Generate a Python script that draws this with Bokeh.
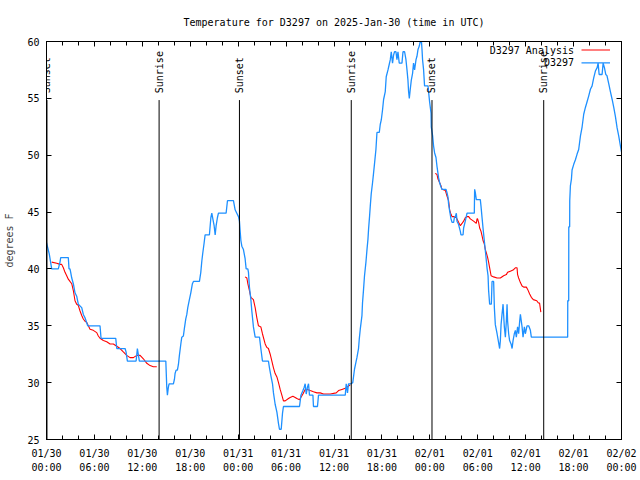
import math
from datetime import datetime, timedelta
from bokeh.plotting import figure
from bokeh.models import Range1d, FixedTicker, LinearAxis, Label, Arrow, ColumnDataSource
from bokeh.embed import file_html
from bokeh.resources import INLINE

station = "D3297"
start = datetime(2025, 1, 30, 0, 0)
title_text = "Temperature for D3297 on 2025-Jan-30 (time in UTC)"

# observations (hours since 2025-01-30 00:00 UTC, degrees F)
obs_hours = [0.0, 0.35, 0.65, 1.48, 1.69, 1.78, 2.73, 2.82, 2.94, 3.03, 3.16, 3.36, 3.57, 3.78, 3.98,
             4.41, 4.61, 4.82, 5.16, 6.70, 6.83, 8.67, 8.80, 9.84, 9.96, 10.13, 11.22, 11.38, 11.63,
             14.94, 15.06, 15.14, 15.26, 15.35, 15.89, 16.02, 16.10, 16.23, 16.39, 16.52, 16.64, 16.82,
             16.94, 17.14, 17.27, 17.44, 17.57, 17.69, 17.86, 18.07, 18.27, 18.40, 19.15, 19.32, 19.45,
             19.57, 19.74, 19.86, 20.40, 20.58, 20.70, 20.83, 20.99, 21.12, 21.24, 21.40, 21.53, 22.49,
             22.66, 23.41, 23.62, 23.83, 24.04, 24.16, 24.25, 24.34, 24.46, 24.66, 24.87, 25.00, 25.21,
             25.29, 25.41, 25.59, 25.71, 25.91, 26.13, 26.67, 26.84, 27.04, 27.79, 27.92, 28.10, 28.30,
             28.42, 28.63, 28.85, 29.05, 29.17, 29.39, 29.55, 29.67, 31.68, 31.86, 32.11, 32.27, 32.39,
             32.52, 32.68, 32.81, 32.93, 33.36, 33.43, 33.93, 34.06, 37.41, 37.53, 37.69, 37.82, 38.12,
             38.35, 38.57, 38.75, 38.87, 39.07, 39.16, 39.29, 39.50, 39.57, 39.70, 39.82, 40.00, 40.13,
             40.25, 40.33, 40.45, 40.54, 40.66, 40.83, 40.95, 41.08, 41.25, 41.38, 41.67, 41.79, 41.92,
             42.08, 42.21, 42.42, 42.54, 42.76, 42.92, 43.05, 43.17, 43.33, 43.46, 43.58, 43.76, 43.88,
             44.01, 44.17, 44.51, 44.64, 44.84, 45.01, 45.14, 45.26, 45.34, 45.43, 45.55, 45.68, 45.84,
             45.96, 46.09, 46.27, 46.39, 46.52, 46.68, 46.80, 46.93, 47.02, 47.09, 47.22, 47.34, 47.77,
             47.84, 47.97, 48.15, 48.18, 48.35, 48.47, 48.60, 48.77, 48.90, 49.02, 49.10, 49.22, 49.40,
             49.52, 50.03, 50.15, 50.28, 50.35, 50.48, 50.65, 50.78, 50.98, 51.07, 51.19, 51.32, 51.40,
             51.60, 51.82, 51.90, 52.16, 52.23, 52.44, 52.66, 53.57, 53.61, 53.70, 53.82, 54.32, 54.41,
             54.54, 54.66, 54.82, 54.95, 55.08, 55.16, 55.29, 55.36, 55.49, 55.70, 55.79, 55.99, 56.08,
             56.20, 56.42, 56.62, 56.74, 56.83, 56.92, 57.04, 57.17, 57.24, 57.33, 57.46, 57.58, 57.67,
             57.74, 57.87, 57.99, 58.17, 58.30, 58.42, 58.58, 58.71, 58.83, 58.99, 59.12, 59.25, 59.34,
             59.55, 59.67, 59.84, 59.96, 60.17, 60.38, 60.59, 60.71, 65.26, 65.27, 65.39, 65.40, 65.51,
             65.52, 65.60, 65.73, 65.81, 66.02, 66.23, 66.44, 66.64, 66.86, 67.07, 67.27, 67.48, 67.69,
             67.89, 68.11, 68.32, 68.52, 68.73, 68.95, 69.07, 69.20, 69.57, 69.70, 69.86, 70.03, 70.18,
             70.40, 70.61, 70.83, 71.03, 71.24, 71.45, 71.65, 71.87, 72.00]
obs_temps = [42.3, 41.3, 40.0, 40.0, 40.6, 41.0, 41.0, 40.0, 40.0, 39.7, 39.2, 38.7, 37.9, 37.6, 36.9,
             36.6, 36.0, 35.7, 35.0, 35.0, 33.9, 33.9, 33.0, 33.0, 32.7, 31.9, 31.9, 33.0, 31.9,
             31.9, 29.6, 28.9, 29.6, 29.9, 29.9, 30.3, 30.8, 31.1, 31.1, 31.6, 32.4, 33.4,
             34.0, 34.1, 34.8, 35.6, 36.0, 36.6, 37.2, 37.9, 38.7, 38.9, 38.9, 39.7, 40.7,
             41.4, 42.3, 43.0, 43.0, 44.5, 44.9, 44.4, 43.8, 43.0, 43.8, 44.5, 44.9, 44.9,
             46.0, 46.0, 45.2, 44.9, 44.6, 44.2, 43.3, 42.5, 42.0, 41.7, 40.9, 40.0, 40.0,
             39.7, 38.4, 37.3, 36.3, 34.9, 34.0, 34.0, 33.0, 31.9, 31.9, 31.3, 30.6, 29.9,
             29.1, 28.1, 27.4, 26.4, 25.9, 25.9, 27.3, 27.9, 27.9, 28.9, 29.3, 29.6, 29.9,
             29.0, 29.6, 29.9, 28.9, 28.9, 27.9, 27.9, 28.9, 28.9, 29.9, 29.1, 29.9, 29.9,
             30.0, 31.2, 31.8, 32.2, 33.0, 33.8, 34.7, 35.9, 37.0, 38.2, 39.4, 40.6, 41.7,
             42.6, 43.5, 44.6, 45.5, 46.6, 47.6, 48.4, 49.3, 50.5, 52.0, 52.0, 52.7, 53.1,
             54.0, 54.9, 55.6, 56.9, 57.5, 58.0, 58.4, 59.1, 58.1, 58.8, 59.1, 59.1, 58.4,
             59.1, 58.1, 58.1, 59.1, 59.1, 58.4, 57.5, 56.6, 55.6, 55.0, 55.8, 56.6, 57.2,
             58.1, 57.5, 58.4, 58.7, 59.3, 59.6, 60.0, 60.2, 59.3, 58.4, 57.5, 56.1, 56.1,
             55.6, 54.7, 53.7, 52.5, 51.7, 50.8, 50.2, 49.8, 49.0, 48.4, 48.0, 47.6, 47.2,
             47.0, 47.0, 46.7, 46.3, 45.7, 45.1, 44.4, 44.1, 44.1, 44.5, 44.6, 44.9, 44.2,
             43.9, 43.3, 43.0, 43.0, 43.6, 44.2, 44.9, 44.9, 47.0, 46.7, 46.1, 46.1, 45.5,
             44.5, 43.6, 42.5, 41.6, 40.7, 40.1, 39.4, 38.1, 36.9, 36.9, 38.9, 38.9, 36.6,
             35.1, 34.3, 33.5, 33.0, 33.7, 35.1, 36.0, 36.9, 36.0, 34.9, 34.0, 35.4, 36.9,
             35.4, 34.3, 33.7, 33.4, 33.0, 33.7, 34.3, 34.6, 34.0, 34.9, 34.3, 35.4, 36.0,
             34.9, 34.0, 34.9, 34.3, 35.0, 35.0, 34.6, 34.0, 34.0, 37.2, 37.2, 43.7, 43.7,
             46.0, 47.3, 47.9, 48.7, 49.2, 49.6, 50.1, 50.5, 51.7, 52.5, 53.6, 54.2, 54.7,
             55.2, 55.8, 56.1, 56.8, 57.4, 57.7, 58.1, 57.1, 57.1, 58.1, 57.7, 57.1, 57.0,
             56.3, 55.6, 54.9, 54.2, 53.4, 52.4, 51.7, 50.8, 50.3]

# analysis (NaN separates the three analysis periods)
nan = float("nan")
ana_hours = [0.65, 1.28, 1.69, 1.90, 2.11, 2.32, 2.53, 2.73, 2.94, 3.16, 3.36, 3.57, 3.78, 3.98, 4.20,
             4.41, 4.61, 4.82, 5.04, 5.24, 5.45, 5.86, 6.29, 6.49, 6.70, 7.12, 7.54, 7.96, 8.37, 8.80,
             9.21, 9.62, 10.05, 10.46, 10.88, 11.30, 11.72, 12.13, 12.56, 12.97, 13.38, 13.81,
             nan,
             24.87, 25.09, 25.21, 25.41, 25.59, 25.91, 26.13, 26.34, 26.54, 26.84, 27.04, 27.38, 27.59,
             27.79, 28.01, 28.22, 28.42, 28.63, 28.85, 29.05, 29.26, 29.47, 29.67, 29.89, 30.30, 30.51,
             30.85, 31.14, 31.35, 31.68, 32.11, 32.39, 32.68, 33.02, 33.43, 33.86, 34.27, 34.69, 35.53,
             36.28, 36.57, 36.99, 37.41, 37.82, 38.03,
             nan,
             48.68, 48.90, 49.02, 49.22, 49.40, 49.52, 49.94, 50.15, 50.35, 50.48, 50.65, 50.78, 50.98,
             51.32, 51.60, 51.82, 52.03, 52.23, 52.44, 52.66, 52.86, 53.07, 53.48, 53.82, 53.91, 53.98,
             54.11, 54.24, 54.41, 54.54, 54.66, 54.82, 54.95, 55.08, 55.24, 55.36, 55.49, 55.67, 55.99,
             56.42, 56.83, 57.24, 57.58, 57.74, 58.08, 58.42, 58.71, 58.92, 58.99, 59.12, 59.34, 59.55,
             59.75, 60.09, 60.25, 60.50, 60.71, 60.96, 61.39, 61.59, 61.74, 61.82, 61.90]
ana_temps = [40.6, 40.5, 40.4, 40.4, 40.1, 39.7, 39.4, 39.1, 38.9, 38.7, 38.1, 37.2, 36.9, 36.8, 36.3,
             35.9, 35.6, 35.4, 35.3, 35.0, 34.7, 34.6, 34.4, 34.1, 33.9, 33.7, 33.6, 33.4, 33.4, 33.2,
             33.0, 32.7, 32.4, 32.2, 32.2, 32.4, 32.4, 32.1, 31.7, 31.5, 31.4, 31.4,
             nan,
             39.3, 39.2, 38.7, 38.1, 37.5, 37.3, 36.6, 35.7, 35.0, 34.9, 34.3, 33.4, 33.1,
             33.0, 32.5, 31.9, 31.3, 30.8, 30.5, 30.0, 29.4, 28.9, 28.4, 28.4, 28.6, 28.7,
             28.8, 28.7, 28.6, 28.5, 29.0, 29.4, 29.4, 29.3, 29.2, 29.1, 29.1, 29.0, 29.0,
             29.1, 29.3, 29.4, 29.5, 29.7, 29.8,
             nan,
             48.4, 48.3, 47.9, 47.6, 47.3, 47.0, 46.9, 46.4, 46.0, 45.2, 44.8, 44.6, 44.6,
             44.5, 44.1, 43.8, 44.0, 44.2, 44.5, 44.6, 44.6, 44.4, 44.2, 44.0, 44.4, 44.4,
             44.1, 43.6, 43.3, 42.9, 42.5, 42.2, 41.7, 41.4, 41.0, 40.6, 40.1, 39.4, 39.3,
             39.2, 39.2, 39.4, 39.5, 39.7, 39.8, 39.9, 40.1, 40.1, 39.5, 39.2, 38.8, 38.5,
             38.4, 38.4, 38.2, 37.8, 37.5, 37.3, 37.2, 37.0, 37.0, 36.6, 36.2]

event_names = ["Sunset", "Sunrise", "Sunset", "Sunrise", "Sunset", "Sunrise"]
event_hours = [0.06, 14.10, 24.16, 38.16, 48.27, 62.26]

y_ticks = [25, 30, 35, 40, 45, 50, 55, 60]
x_major_hours = list(range(0, 73, 6))
x_minor_hours = list(range(0, 73, 2))
x_tick_labels = {h: (start + timedelta(hours=h)).strftime("%m/%d\n%H:%M") for h in x_major_hours}

FONT = "DejaVu Sans Mono"
FS = "10px"
BLUE = "#1e90ff"
RED = "#ff0000"

p = figure(width=640, height=480, x_range=Range1d(0, 72), y_range=Range1d(25, 60),
           output_backend="svg", toolbar_location=None,
           min_border_left=46, min_border_right=19, min_border_top=40, min_border_bottom=41,
           title=title_text)
p.background_fill_color = "white"
p.border_fill_color = "white"
p.outline_line_color = "black"
p.outline_line_width = 1
p.grid.visible = False

p.title.align = "center"
p.title.text_font = FONT
p.title.text_font_size = FS
p.title.text_font_style = "normal"
p.title.text_color = "black"
p.title.standoff = 28

xt = FixedTicker(ticks=x_major_hours, minor_ticks=x_minor_hours)
yt = FixedTicker(ticks=y_ticks, minor_ticks=[])

def style_axis(ax, ticker, show_labels):
    ax.ticker = ticker
    ax.axis_line_color = "black"
    ax.major_tick_line_color = "black"
    ax.minor_tick_line_color = "black"
    ax.major_tick_in = 5
    ax.major_tick_out = 0
    ax.minor_tick_in = 4
    ax.minor_tick_out = 0
    ax.major_label_text_font = FONT
    ax.major_label_text_color = "black"
    ax.major_label_text_font_size = FS
    if not show_labels:
        ax.major_label_overrides = {t: "" for t in ticker.ticks}
        ax.major_label_standoff = 0

style_axis(p.xaxis[0], xt, True)
p.xaxis[0].major_label_overrides = x_tick_labels
p.xaxis[0].major_label_standoff = 8
p.xaxis[0].major_label_text_line_height = 1.3

style_axis(p.yaxis[0], yt, True)
p.yaxis[0].major_label_standoff = 7
p.yaxis[0].axis_label = "degrees F"
p.yaxis[0].axis_label_text_font = FONT
p.yaxis[0].axis_label_text_font_size = FS
p.yaxis[0].axis_label_text_font_style = "normal"
p.yaxis[0].axis_label_standoff = 9

top_axis = LinearAxis()
style_axis(top_axis, xt, False)
p.add_layout(top_axis, "above")
right_axis = LinearAxis()
style_axis(right_axis, yt, False)
p.add_layout(right_axis, "right")

# analysis then observations
p.line(ana_hours, ana_temps, line_color=RED, line_width=1.1)
p.line(obs_hours, obs_temps, line_color=BLUE, line_width=1.3)

# sunrise / sunset markers
ev = ColumnDataSource(dict(x=event_hours, y0=[25] * len(event_hours), y1=[54.85] * len(event_hours)))
p.segment(x0="x", y0="y0", x1="x", y1="y1", source=ev, line_color="black", line_width=1)
for name, h in zip(event_names, event_hours):
    p.add_layout(Label(x=h, y=55.45, text=name, angle=math.pi / 2, text_align="left",
                       text_baseline="middle", text_font=FONT, text_font_size=FS,
                       text_color="black"))

# legend (text right, sample line to the right of it)
legend_rows = [("D3297 Analysis", RED), ("D3297", BLUE)]
for i, (lab, col) in enumerate(legend_rows):
    sy = 389.5 - i * 12.8
    p.add_layout(Label(x=527.5, y=sy, x_units="screen", y_units="screen", text=lab,
                       text_align="right", text_baseline="middle", text_font=FONT,
                       text_font_size=FS, text_color="black"))
    p.add_layout(Arrow(x_start=535, y_start=sy, x_end=563.5, y_end=sy, start_units="screen",
                       end_units="screen", end=None, line_color=col, line_width=1.2))

open("out.html", "w").write(file_html(p, INLINE))
